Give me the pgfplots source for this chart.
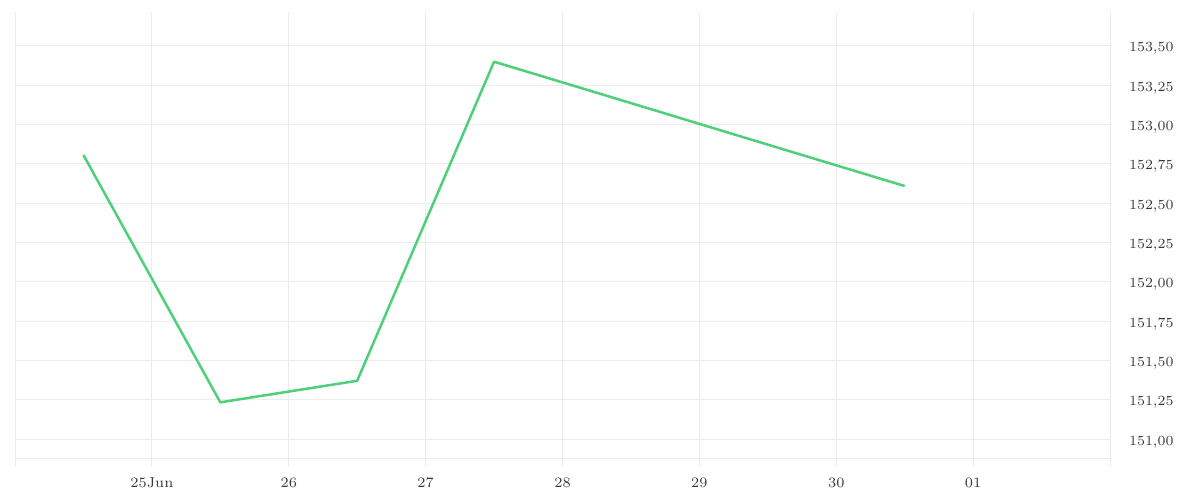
\documentclass[border=0pt]{standalone}
\usepackage{pgfplots}
\pgfplotsset{compat=1.18}
\definecolor{linegreen}{RGB}{78,208,122}
\definecolor{gridgray}{RGB}{236,236,236}
\definecolor{textgray}{RGB}{55,55,55}
\begin{document}
\begin{tikzpicture}
\path[use as bounding box] (0,0) rectangle (600pt,250pt);
\begin{axis}[
  at={(7.5pt,16.5pt)}, anchor=south west,
  scale only axis, width=547.5pt, height=227.5pt,
  xmin=24, xmax=32, ymin=150.824, ymax=153.716,
  axis line style={draw=none},
  xtick={24,25,26,27,28,29,30,31,32},
  xticklabels={,25Jun,26,27,28,29,30,01,},
  ytick={151,151.25,151.5,151.75,152,152.25,152.5,152.75,153,153.25,153.5},
  extra y ticks={150.879},
  extra y tick labels={},
  extra y tick style={grid=major, major grid style={gridgray, line width=0.5pt}},
  yticklabel pos=right,
  major tick length=0pt,
  grid=major,
  major grid style={gridgray, line width=0.5pt},
  tick label style={font=\fontsize{7.2}{9}\selectfont, text=textgray},
  y tick label style={/pgf/number format/fixed, /pgf/number format/fixed zerofill, /pgf/number format/precision=2, /pgf/number format/use comma, xshift=6pt, yshift=-1.3pt},
  xticklabel style={yshift=-2pt},
  clip=false,
]
\addplot[linegreen, line width=1.25pt, line join=round] coordinates {
  (24.5,152.807) (25.5,151.235) (26.5,151.372) (27.5,153.40) (28.5,153.137) (29.5,152.873) (30.5,152.61)
};
\end{axis}
\end{tikzpicture}
\end{document}
